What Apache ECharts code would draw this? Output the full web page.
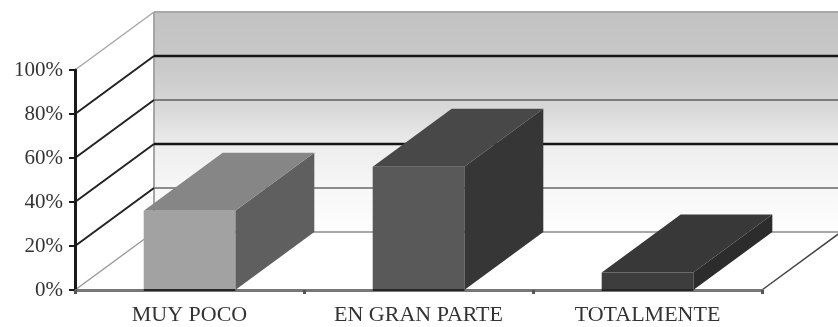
<!DOCTYPE html>
<html>
<head>
<meta charset="utf-8">
<script src="https://cdn.jsdelivr.net/npm/echarts@6/dist/echarts.min.js"></script>
<style>
  html, body { margin: 0; padding: 0; background: #fff; }
  #chart { width: 838px; height: 327px; }
</style>
</head>
<body>
<div id="chart"></div>
<script>
// Survey answers (share of respondents, %)
const categories = ['MUY POCO', 'EN GRAN PARTE', 'TOTALMENTE'];
const values = [36, 56, 8];
const yTicks = [0, 20, 40, 60, 80, 100];

// Depth of the 3D box (screen offset of the back plane)
const DX = 79, DY = -58;

// Face shades per bar: front, top, side
const barShades = [
  ['#a2a2a2', '#868686', '#5f5f5f'],
  ['#595959', '#484848', '#363636'],
  ['#3d3d3d', '#383838', '#2c2c2c']
];

// Back wall gridline / side wall diagonal styles per tick
const backLineStyle = [
  { stroke: '#a8a8a8', lineWidth: 2 },
  { stroke: '#8c8c8c', lineWidth: 2 },
  { stroke: '#151515', lineWidth: 2.5 },
  { stroke: '#7c7c7c', lineWidth: 2 },
  { stroke: '#151515', lineWidth: 2.5 },
  { stroke: '#a8a8a8', lineWidth: 2 }
];
const diagStyle = [
  { stroke: '#9a9a9a', lineWidth: 1.5 },
  { stroke: '#222', lineWidth: 2 },
  { stroke: '#222', lineWidth: 2 },
  { stroke: '#222', lineWidth: 2 },
  { stroke: '#222', lineWidth: 2 },
  { stroke: '#a8a8a8', lineWidth: 1.5 }
];

function renderWalls(params, api) {
  const cs = params.coordSys;
  const x0 = cs.x, x1 = cs.x + cs.width;
  const yTop = api.coord([0, yTicks[yTicks.length - 1]])[1];
  const yBase = api.coord([0, yTicks[0]])[1];
  const children = [];

  // back wall with vertical shading
  children.push({
    type: 'polygon',
    shape: { points: [[x0 + DX, yTop + DY], [x1 + DX, yTop + DY], [x1 + DX, yBase + DY], [x0 + DX, yBase + DY]] },
    style: {
      fill: {
        type: 'linear', x: 0, y: 0, x2: 0, y2: 1,
        colorStops: [
          { offset: 0, color: '#c2c2c2' },
          { offset: 0.25, color: '#c9c9c9' },
          { offset: 0.45, color: '#d9d9d9' },
          { offset: 0.62, color: '#eeeeee' },
          { offset: 0.8, color: '#f7f7f7' },
          { offset: 1, color: '#fdfdfd' }
        ]
      }
    }
  });

  // corner edge between side wall and back wall
  children.push({
    type: 'line',
    shape: { x1: x0 + DX, y1: yTop + DY, x2: x0 + DX, y2: yBase + DY },
    style: { stroke: '#a5a5a5', lineWidth: 2 }
  });

  yTicks.forEach(function (v, i) {
    const y = api.coord([0, v])[1];
    children.push({
      type: 'line',
      shape: { x1: x0 + DX, y1: y + DY, x2: x1 + DX, y2: y + DY },
      style: backLineStyle[i]
    });
    children.push({
      type: 'line',
      shape: { x1: x0, y1: y, x2: x0 + DX, y2: y + DY },
      style: diagStyle[i]
    });
  });

  // right edge of the floor
  children.push({
    type: 'line',
    shape: { x1: x1, y1: yBase, x2: x1 + DX, y2: yBase + DY },
    style: { stroke: '#444', lineWidth: 1.5 }
  });

  return { type: 'group', children: children };
}

function renderBar(params, api) {
  const idx = api.value(0);
  const val = api.value(1);
  const top = api.coord([idx, val]);
  const base = api.coord([idx, 0]);
  const band = api.size([1, 0])[0];
  const w = band * 0.4;
  const xl = top[0] - w / 2, xr = top[0] + w / 2;
  const yt = top[1], yb = base[1];
  const shade = barShades[idx];
  return {
    type: 'group',
    children: [
      {
        type: 'polygon',
        shape: { points: [[xr, yt], [xr + DX, yt + DY], [xr + DX, yb + DY], [xr, yb]] },
        style: { fill: shade[2] }
      },
      {
        type: 'polygon',
        shape: { points: [[xl, yt], [xr, yt], [xr + DX, yt + DY], [xl + DX, yt + DY]] },
        style: { fill: shade[1] }
      },
      {
        type: 'rect',
        shape: { x: xl, y: yt, width: w, height: yb - yt },
        style: { fill: shade[0] }
      },
      {
        type: 'line',
        shape: { x1: xl, y1: yb, x2: xr, y2: yb },
        style: { stroke: '#262626', lineWidth: 2 }
      }
    ]
  };
}

const chart = echarts.init(document.getElementById('chart'), null, { renderer: 'canvas' });

chart.setOption({
  animation: false,
  backgroundColor: '#ffffff',
  grid: { left: 75, right: 76, top: 70, bottom: 37, containLabel: false },
  xAxis: {
    type: 'category',
    data: categories,
    boundaryGap: true,
    axisLine: { show: true, lineStyle: { color: '#777777', width: 3 } },
    axisTick: { show: true, length: 4, lineStyle: { color: '#555', width: 3 } },
    axisLabel: {
      margin: 14,
      fontFamily: 'Liberation Serif',
      fontSize: 22,
      color: '#333'
    },
    splitLine: { show: false }
  },
  yAxis: {
    type: 'value',
    min: yTicks[0],
    max: yTicks[yTicks.length - 1],
    interval: yTicks[1] - yTicks[0],
    axisLine: { show: true, lineStyle: { color: '#1a1a1a', width: 3 } },
    axisTick: { show: true, length: 6, lineStyle: { color: '#1a1a1a', width: 2 } },
    axisLabel: {
      margin: 12,
      formatter: '{value}%',
      fontFamily: 'Liberation Serif',
      fontSize: 21,
      color: '#333',
      padding: [6, 0, 0, 0]
    },
    splitLine: { show: false }
  },
  series: [
    {
      type: 'custom',
      name: 'walls',
      clip: false,
      silent: true,
      z: 0,
      renderItem: renderWalls,
      data: [[0, 0]]
    },
    {
      type: 'custom',
      name: 'bars',
      clip: false,
      z: 5,
      renderItem: renderBar,
      encode: { x: 0, y: 1 },
      data: values.map(function (v, i) { return [i, v]; })
    }
  ]
});
</script>
</body>
</html>
